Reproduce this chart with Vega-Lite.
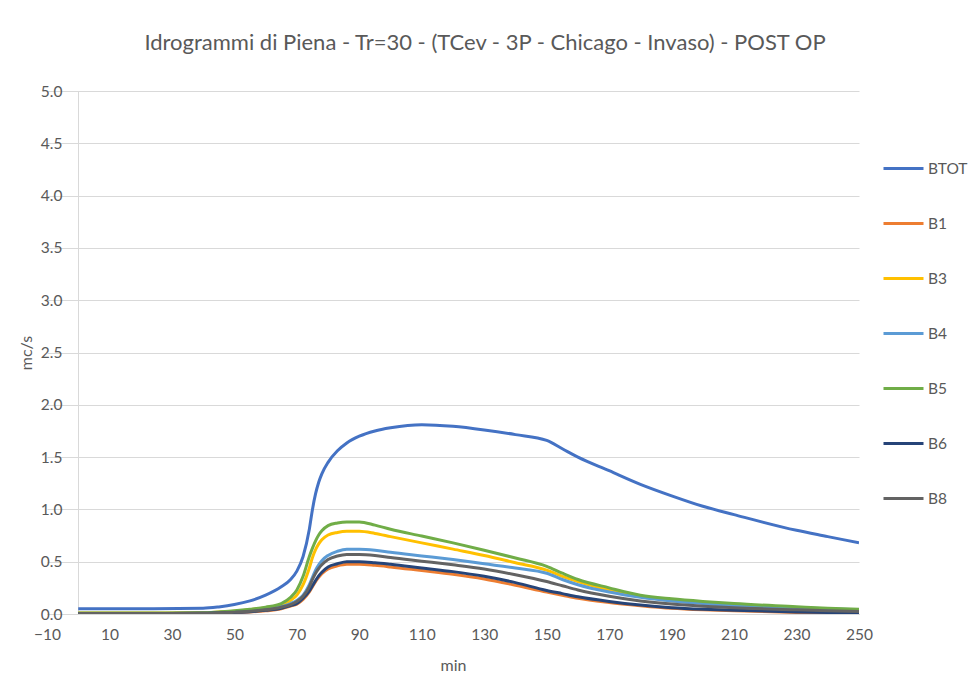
{
  "$schema": "https://vega.github.io/schema/vega-lite/v6.json",
  "width": 812,
  "height": 523,
  "autosize": {"type": "none"},
  "padding": {"left": 47, "top": 91, "right": 112, "bottom": 61},
  "background": "white",
  "title": {
    "text": "Idrogrammi di Piena - Tr=30 - (TCev - 3P - Chicago  - Invaso) - POST OP",
    "font": "Lato",
    "fontSize": 22,
    "fontWeight": "normal",
    "color": "#595959",
    "anchor": "middle",
    "dx": 32,
    "offset": 29
  },
  "config": {
    "view": {"stroke": null},
    "font": "Lato"
  },
  "data": {
    "values": [
      {"t":0,"s":"BTOT","q":0.05},{"t":20,"s":"BTOT","q":0.05},{"t":40,"s":"BTOT","q":0.055},{"t":45,"s":"BTOT","q":0.068},{"t":50,"s":"BTOT","q":0.09},{"t":55,"s":"BTOT","q":0.125},{"t":60,"s":"BTOT","q":0.18},{"t":65,"s":"BTOT","q":0.26},{"t":68,"s":"BTOT","q":0.33},{"t":70,"s":"BTOT","q":0.41},{"t":72,"s":"BTOT","q":0.55},{"t":74,"s":"BTOT","q":0.81},{"t":75,"s":"BTOT","q":1.00},{"t":76,"s":"BTOT","q":1.15},{"t":77,"s":"BTOT","q":1.26},{"t":78,"s":"BTOT","q":1.34},{"t":80,"s":"BTOT","q":1.45},{"t":83,"s":"BTOT","q":1.56},{"t":86,"s":"BTOT","q":1.635},{"t":90,"s":"BTOT","q":1.70},{"t":95,"s":"BTOT","q":1.75},{"t":100,"s":"BTOT","q":1.78},{"t":110,"s":"BTOT","q":1.81},{"t":120,"s":"BTOT","q":1.795},{"t":130,"s":"BTOT","q":1.76},{"t":140,"s":"BTOT","q":1.715},{"t":150,"s":"BTOT","q":1.66},{"t":155,"s":"BTOT","q":1.58},{"t":160,"s":"BTOT","q":1.50},{"t":170,"s":"BTOT","q":1.37},{"t":180,"s":"BTOT","q":1.24},{"t":190,"s":"BTOT","q":1.13},{"t":200,"s":"BTOT","q":1.03},{"t":210,"s":"BTOT","q":0.95},{"t":230,"s":"BTOT","q":0.80},{"t":240,"s":"BTOT","q":0.74},{"t":250,"s":"BTOT","q":0.68},

      {"t":0,"s":"B1","q":0.005},{"t":20,"s":"B1","q":0.005},{"t":40,"s":"B1","q":0.006},{"t":45,"s":"B1","q":0.009},{"t":50,"s":"B1","q":0.013},{"t":55,"s":"B1","q":0.02},{"t":60,"s":"B1","q":0.03},{"t":65,"s":"B1","q":0.05},{"t":68,"s":"B1","q":0.075},{"t":70,"s":"B1","q":0.095},{"t":72,"s":"B1","q":0.14},{"t":74,"s":"B1","q":0.21},{"t":75,"s":"B1","q":0.26},{"t":76,"s":"B1","q":0.31},{"t":77,"s":"B1","q":0.35},{"t":78,"s":"B1","q":0.385},{"t":80,"s":"B1","q":0.43},{"t":83,"s":"B1","q":0.46},{"t":86,"s":"B1","q":0.475},{"t":90,"s":"B1","q":0.475},{"t":95,"s":"B1","q":0.465},{"t":100,"s":"B1","q":0.45},{"t":110,"s":"B1","q":0.415},{"t":120,"s":"B1","q":0.38},{"t":130,"s":"B1","q":0.335},{"t":140,"s":"B1","q":0.275},{"t":150,"s":"B1","q":0.21},{"t":155,"s":"B1","q":0.18},{"t":160,"s":"B1","q":0.15},{"t":170,"s":"B1","q":0.11},{"t":180,"s":"B1","q":0.08},{"t":190,"s":"B1","q":0.055},{"t":200,"s":"B1","q":0.04},{"t":210,"s":"B1","q":0.03},{"t":230,"s":"B1","q":0.015},{"t":240,"s":"B1","q":0.01},{"t":250,"s":"B1","q":0.008},

      {"t":0,"s":"B3","q":0.01},{"t":20,"s":"B3","q":0.01},{"t":40,"s":"B3","q":0.012},{"t":45,"s":"B3","q":0.018},{"t":50,"s":"B3","q":0.027},{"t":55,"s":"B3","q":0.04},{"t":60,"s":"B3","q":0.06},{"t":65,"s":"B3","q":0.09},{"t":68,"s":"B3","q":0.13},{"t":70,"s":"B3","q":0.18},{"t":72,"s":"B3","q":0.28},{"t":74,"s":"B3","q":0.44},{"t":75,"s":"B3","q":0.54},{"t":76,"s":"B3","q":0.615},{"t":77,"s":"B3","q":0.67},{"t":78,"s":"B3","q":0.71},{"t":80,"s":"B3","q":0.755},{"t":83,"s":"B3","q":0.78},{"t":86,"s":"B3","q":0.79},{"t":90,"s":"B3","q":0.79},{"t":95,"s":"B3","q":0.77},{"t":100,"s":"B3","q":0.74},{"t":110,"s":"B3","q":0.68},{"t":120,"s":"B3","q":0.62},{"t":130,"s":"B3","q":0.56},{"t":140,"s":"B3","q":0.49},{"t":150,"s":"B3","q":0.42},{"t":155,"s":"B3","q":0.36},{"t":160,"s":"B3","q":0.31},{"t":170,"s":"B3","q":0.23},{"t":180,"s":"B3","q":0.17},{"t":190,"s":"B3","q":0.13},{"t":200,"s":"B3","q":0.105},{"t":210,"s":"B3","q":0.085},{"t":230,"s":"B3","q":0.06},{"t":240,"s":"B3","q":0.045},{"t":250,"s":"B3","q":0.035},

      {"t":0,"s":"B4","q":0.005},{"t":20,"s":"B4","q":0.005},{"t":40,"s":"B4","q":0.008},{"t":45,"s":"B4","q":0.013},{"t":50,"s":"B4","q":0.02},{"t":55,"s":"B4","q":0.03},{"t":60,"s":"B4","q":0.045},{"t":65,"s":"B4","q":0.07},{"t":68,"s":"B4","q":0.10},{"t":70,"s":"B4","q":0.13},{"t":72,"s":"B4","q":0.18},{"t":74,"s":"B4","q":0.28},{"t":75,"s":"B4","q":0.35},{"t":76,"s":"B4","q":0.42},{"t":77,"s":"B4","q":0.47},{"t":78,"s":"B4","q":0.51},{"t":80,"s":"B4","q":0.56},{"t":83,"s":"B4","q":0.60},{"t":86,"s":"B4","q":0.62},{"t":90,"s":"B4","q":0.62},{"t":95,"s":"B4","q":0.61},{"t":100,"s":"B4","q":0.59},{"t":110,"s":"B4","q":0.555},{"t":120,"s":"B4","q":0.52},{"t":130,"s":"B4","q":0.48},{"t":140,"s":"B4","q":0.44},{"t":150,"s":"B4","q":0.39},{"t":155,"s":"B4","q":0.33},{"t":160,"s":"B4","q":0.28},{"t":170,"s":"B4","q":0.21},{"t":180,"s":"B4","q":0.16},{"t":190,"s":"B4","q":0.125},{"t":200,"s":"B4","q":0.10},{"t":210,"s":"B4","q":0.08},{"t":230,"s":"B4","q":0.06},{"t":240,"s":"B4","q":0.05},{"t":250,"s":"B4","q":0.04},

      {"t":0,"s":"B5","q":0.01},{"t":20,"s":"B5","q":0.01},{"t":40,"s":"B5","q":0.012},{"t":45,"s":"B5","q":0.02},{"t":50,"s":"B5","q":0.03},{"t":55,"s":"B5","q":0.045},{"t":60,"s":"B5","q":0.065},{"t":65,"s":"B5","q":0.10},{"t":68,"s":"B5","q":0.16},{"t":70,"s":"B5","q":0.23},{"t":72,"s":"B5","q":0.36},{"t":74,"s":"B5","q":0.55},{"t":75,"s":"B5","q":0.63},{"t":76,"s":"B5","q":0.70},{"t":77,"s":"B5","q":0.755},{"t":78,"s":"B5","q":0.795},{"t":80,"s":"B5","q":0.845},{"t":83,"s":"B5","q":0.87},{"t":86,"s":"B5","q":0.88},{"t":90,"s":"B5","q":0.88},{"t":95,"s":"B5","q":0.85},{"t":100,"s":"B5","q":0.81},{"t":110,"s":"B5","q":0.745},{"t":120,"s":"B5","q":0.68},{"t":130,"s":"B5","q":0.61},{"t":140,"s":"B5","q":0.535},{"t":150,"s":"B5","q":0.455},{"t":155,"s":"B5","q":0.39},{"t":160,"s":"B5","q":0.33},{"t":170,"s":"B5","q":0.25},{"t":180,"s":"B5","q":0.18},{"t":190,"s":"B5","q":0.145},{"t":200,"s":"B5","q":0.12},{"t":210,"s":"B5","q":0.10},{"t":230,"s":"B5","q":0.07},{"t":240,"s":"B5","q":0.055},{"t":250,"s":"B5","q":0.045},

      {"t":0,"s":"B6","q":0.005},{"t":20,"s":"B6","q":0.005},{"t":40,"s":"B6","q":0.006},{"t":45,"s":"B6","q":0.01},{"t":50,"s":"B6","q":0.015},{"t":55,"s":"B6","q":0.022},{"t":60,"s":"B6","q":0.035},{"t":65,"s":"B6","q":0.055},{"t":68,"s":"B6","q":0.08},{"t":70,"s":"B6","q":0.10},{"t":72,"s":"B6","q":0.15},{"t":74,"s":"B6","q":0.22},{"t":75,"s":"B6","q":0.27},{"t":76,"s":"B6","q":0.32},{"t":77,"s":"B6","q":0.365},{"t":78,"s":"B6","q":0.40},{"t":80,"s":"B6","q":0.45},{"t":83,"s":"B6","q":0.48},{"t":86,"s":"B6","q":0.50},{"t":90,"s":"B6","q":0.50},{"t":95,"s":"B6","q":0.49},{"t":100,"s":"B6","q":0.475},{"t":110,"s":"B6","q":0.44},{"t":120,"s":"B6","q":0.405},{"t":130,"s":"B6","q":0.36},{"t":140,"s":"B6","q":0.30},{"t":150,"s":"B6","q":0.225},{"t":155,"s":"B6","q":0.195},{"t":160,"s":"B6","q":0.165},{"t":170,"s":"B6","q":0.12},{"t":180,"s":"B6","q":0.085},{"t":190,"s":"B6","q":0.06},{"t":200,"s":"B6","q":0.045},{"t":210,"s":"B6","q":0.035},{"t":230,"s":"B6","q":0.02},{"t":240,"s":"B6","q":0.015},{"t":250,"s":"B6","q":0.012},

      {"t":0,"s":"B8","q":0.005},{"t":20,"s":"B8","q":0.005},{"t":40,"s":"B8","q":0.007},{"t":45,"s":"B8","q":0.011},{"t":50,"s":"B8","q":0.017},{"t":55,"s":"B8","q":0.026},{"t":60,"s":"B8","q":0.04},{"t":65,"s":"B8","q":0.065},{"t":68,"s":"B8","q":0.09},{"t":70,"s":"B8","q":0.12},{"t":72,"s":"B8","q":0.17},{"t":74,"s":"B8","q":0.26},{"t":75,"s":"B8","q":0.33},{"t":76,"s":"B8","q":0.39},{"t":77,"s":"B8","q":0.435},{"t":78,"s":"B8","q":0.47},{"t":80,"s":"B8","q":0.52},{"t":83,"s":"B8","q":0.555},{"t":86,"s":"B8","q":0.57},{"t":90,"s":"B8","q":0.57},{"t":95,"s":"B8","q":0.56},{"t":100,"s":"B8","q":0.54},{"t":110,"s":"B8","q":0.505},{"t":120,"s":"B8","q":0.47},{"t":130,"s":"B8","q":0.43},{"t":140,"s":"B8","q":0.375},{"t":150,"s":"B8","q":0.31},{"t":155,"s":"B8","q":0.27},{"t":160,"s":"B8","q":0.23},{"t":170,"s":"B8","q":0.17},{"t":180,"s":"B8","q":0.125},{"t":190,"s":"B8","q":0.095},{"t":200,"s":"B8","q":0.075},{"t":210,"s":"B8","q":0.06},{"t":230,"s":"B8","q":0.04},{"t":240,"s":"B8","q":0.03},{"t":250,"s":"B8","q":0.025}
    ]
  },
  "mark": {"type": "line", "strokeWidth": 3, "interpolate": "monotone", "clip": true},
  "encoding": {
    "x": {
      "field": "t",
      "type": "quantitative",
      "title": "min",
      "scale": {"domain": [-10, 250], "nice": false, "zero": false},
      "axis": {
        "values": [-10, 10, 30, 50, 70, 90, 110, 130, 150, 170, 190, 210, 230, 250],
        "grid": false,
        "ticks": false,
        "domain": true,
        "domainColor": "#d9d9d9",
        "labelFont": "Lato",
        "labelFontSize": 15.5,
        "labelColor": "#595959",
        "labelPadding": 13,
        "labelFlush": false,
        "titleFont": "Lato",
        "titleFontSize": 16,
        "titleFontWeight": "normal",
        "titleColor": "#595959",
        "titlePadding": 15
      }
    },
    "y": {
      "field": "q",
      "type": "quantitative",
      "title": "mc/s",
      "scale": {"domain": [0, 5], "nice": false},
      "axis": {
        "values": [0, 0.5, 1, 1.5, 2, 2.5, 3, 3.5, 4, 4.5, 5],
        "format": ".1f",
        "offset": -31,
        "grid": true,
        "gridColor": "#d9d9d9",
        "gridWidth": 1,
        "ticks": false,
        "domain": true,
        "domainColor": "#d9d9d9",
        "labelFont": "Lato",
        "labelFontSize": 15.5,
        "labelColor": "#595959",
        "labelPadding": 16,
        "titleFont": "Lato",
        "titleFontSize": 16,
        "titleFontWeight": "normal",
        "titleColor": "#595959",
        "titlePadding": 6
      }
    },
    "color": {
      "field": "s",
      "type": "nominal",
      "sort": ["BTOT", "B1", "B3", "B4", "B5", "B6", "B8"],
      "scale": {
        "domain": ["BTOT", "B1", "B3", "B4", "B5", "B6", "B8"],
        "range": ["#4472C4", "#ED7D31", "#FFC000", "#5B9BD5", "#70AD47", "#264478", "#636363"]
      },
      "legend": {
        "title": null,
        "orient": "none",
        "legendX": 835,
        "legendY": 56,
        "symbolType": "stroke",
        "symbolStrokeWidth": 3,
        "symbolSize": 1600,
        "rowPadding": 25,
        "labelFont": "Lato",
        "labelFontSize": 15.5,
        "labelColor": "#595959",
        "labelOffset": 3
      }
    }
  }
}
